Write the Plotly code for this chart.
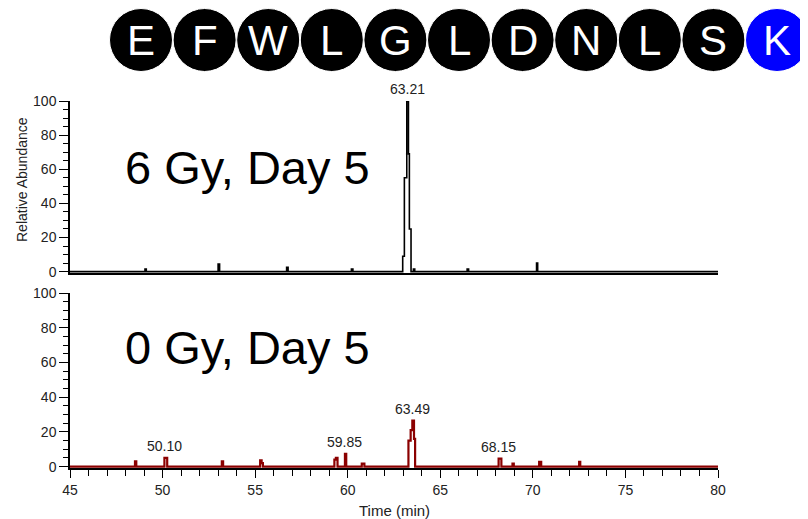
import plotly.graph_objects as go

# page body has an 8px default margin, so the figure covers pixels 8..808 x 8..519
OFF = 8
W, H = 808 - OFF, 519 - OFF

# ---------------- data ----------------
sequence = ["E", "F", "W", "L", "G", "L", "D", "N", "L", "S", "K"]
residue_colors = ["black"] * 10 + ["#0000ff"]

# 6 Gy, Day 5 chromatogram (time in min, relative abundance %)
top_time = [45.0, 49.0, 49.05, 49.12, 52.95, 53.0, 53.08, 56.65, 56.7, 56.78,
            60.15, 60.2, 60.28, 62.9, 62.97, 63.06, 63.19, 63.28, 63.33, 63.42,
            63.5, 63.55, 63.62, 66.4, 66.45, 66.53, 70.15, 70.2, 70.26, 80.0]
top_abund = [0, 0, 1.5, 0, 0, 4.5, 0, 0, 2.5, 0,
             0, 1.5, 0, 0, 9, 55, 100, 69, 25, 0,
             0, 1.5, 0, 0, 1.5, 0, 0, 5, 0, 0]
top_labels = [63.21]

# 0 Gy, Day 5 chromatogram
bot_time = [45.0, 48.45, 48.51, 48.58, 50.05, 50.1, 50.25, 53.15, 53.2, 53.27,
            55.22, 55.27, 55.35, 55.42, 59.22, 59.28, 59.36, 59.45, 59.8, 59.85,
            59.92, 60.7, 60.76, 60.9, 63.2, 63.28, 63.4, 63.49, 63.58, 63.64,
            68.1, 68.15, 68.3, 68.85, 68.9, 68.97, 70.3, 70.34, 70.45, 72.45,
            72.5, 72.56, 80.0]
bot_abund = [0, 0, 3, 0, 0, 5, 0, 0, 3, 0,
             0, 3.6, 2, 0, 0, 4, 5, 0, 0, 7.4,
             0, 0, 1.7, 0, 0, 15, 21, 26.5, 16, 0,
             0, 4.6, 0, 0, 1.7, 0, 0, 2.7, 0, 0,
             2.7, 0, 0]
bot_labels = [50.10, 59.85, 63.49, 68.15]

panel_titles = ["6 Gy, Day 5", "0 Gy, Day 5"]
y_title = "Relative Abundance"
x_title = "Time (min)"

# ---------------- layout helpers (window pixel -> paper, margins are 0) ----------------
def px(x):
    return (x - OFF) / W

def py(y):
    return 1 - (y - OFF) / H

FONT = "Liberation Sans, Arial, sans-serif"

fig = go.Figure()
fig.add_trace(go.Scatter(x=top_time, y=top_abund, mode="lines", line_shape="hv",
                         line=dict(color="black", width=1.6),
                         xaxis="x", yaxis="y", showlegend=False))
fig.add_trace(go.Scatter(x=bot_time, y=bot_abund, mode="lines", line_shape="hv",
                         line=dict(color="#8b0000", width=2.2),
                         xaxis="x2", yaxis="y2", showlegend=False))

annotations = []

def peak_height(times, ab, t):
    return max(a for tt, a in zip(times, ab) if abs(tt - t) <= 0.16)

for t in top_labels:
    annotations.append(dict(x=t, y=peak_height(top_time, top_abund, t), xref="x", yref="y",
                            text=f"{t:.2f}", showarrow=False, yanchor="bottom", yshift=2,
                            font=dict(family=FONT, size=14, color="#222")))
for t in bot_labels:
    annotations.append(dict(x=t, y=peak_height(bot_time, bot_abund, t), xref="x2", yref="y2",
                            text=f"{t:.2f}", showarrow=False, yanchor="bottom", yshift=2,
                            font=dict(family=FONT, size=14, color="#222")))

# big panel titles
for txt, yc in zip(panel_titles, [167, 347]):
    annotations.append(dict(x=px(123), y=py(yc), xref="paper", yref="paper", text=txt,
                            showarrow=False, xanchor="left", yanchor="middle",
                            font=dict(family=FONT, size=47, color="black")))

# axis titles
annotations.append(dict(x=px(22), y=py(180), xref="paper", yref="paper", text=y_title,
                        textangle=-90, showarrow=False, xanchor="center", yanchor="middle",
                        font=dict(family=FONT, size=14, color="#222")))
annotations.append(dict(x=px(394), y=py(510), xref="paper", yref="paper", text=x_title,
                        showarrow=False, xanchor="center", yanchor="middle",
                        font=dict(family=FONT, size=15, color="#222")))

# sequence circles
shapes = []
r = 31.5
for i, (letter, col) in enumerate(zip(sequence, residue_colors)):
    cx = 141 + i * 63.6
    cy = 40
    shapes.append(dict(type="circle", xref="paper", yref="paper",
                       x0=px(cx - r), x1=px(cx + r), y0=py(cy + r), y1=py(cy - r),
                       fillcolor=col, line=dict(color="white", width=1)))
    annotations.append(dict(x=px(cx), y=py(cy), xref="paper", yref="paper", text=letter,
                            showarrow=False, xanchor="center", yanchor="middle",
                            font=dict(family=FONT, size=42, color="white")))

axis_common = dict(showline=True, linecolor="black", linewidth=1.5, showgrid=False,
                   zeroline=False, tickfont=dict(family=FONT, size=14, color="#222"))

xdom = [px(70), px(718)]
fig.update_layout(
    width=W, height=H,
    margin=dict(l=0, r=0, t=0, b=0, pad=0, autoexpand=False),
    paper_bgcolor="white", plot_bgcolor="white",
    xaxis=dict(domain=xdom, range=[45, 80], anchor="y", ticks="", showticklabels=False,
               layer="below traces", **axis_common),
    yaxis=dict(domain=[py(273), py(101)], range=[-0.8, 100], anchor="x",
               tickvals=[0, 20, 40, 60, 80, 100], ticks="outside", ticklen=9, tickwidth=1.3,
               tickcolor="black",
               minor=dict(dtick=5, tick0=0, ticks="outside", ticklen=5, tickwidth=1.3,
                          tickcolor="black"),
               **axis_common),
    xaxis2=dict(domain=xdom, range=[45, 80], anchor="y2", tickvals=[45, 50, 55, 60, 65, 70, 75, 80],
                ticks="outside", ticklen=8, tickwidth=1.3, tickcolor="black",
                minor=dict(dtick=1, tick0=45, ticks="outside", ticklen=6, tickwidth=1.3,
                           tickcolor="black"),
                layer="below traces", **axis_common),
    yaxis2=dict(domain=[py(468), py(293)], range=[-0.8, 100], anchor="x2",
                tickvals=[0, 20, 40, 60, 80, 100], ticks="outside", ticklen=9, tickwidth=1.3,
                tickcolor="black",
                minor=dict(dtick=5, tick0=0, ticks="outside", ticklen=5, tickwidth=1.3,
                           tickcolor="black"),
                **axis_common),
    shapes=shapes,
    annotations=annotations,
)

fig.write_html("out.html")
